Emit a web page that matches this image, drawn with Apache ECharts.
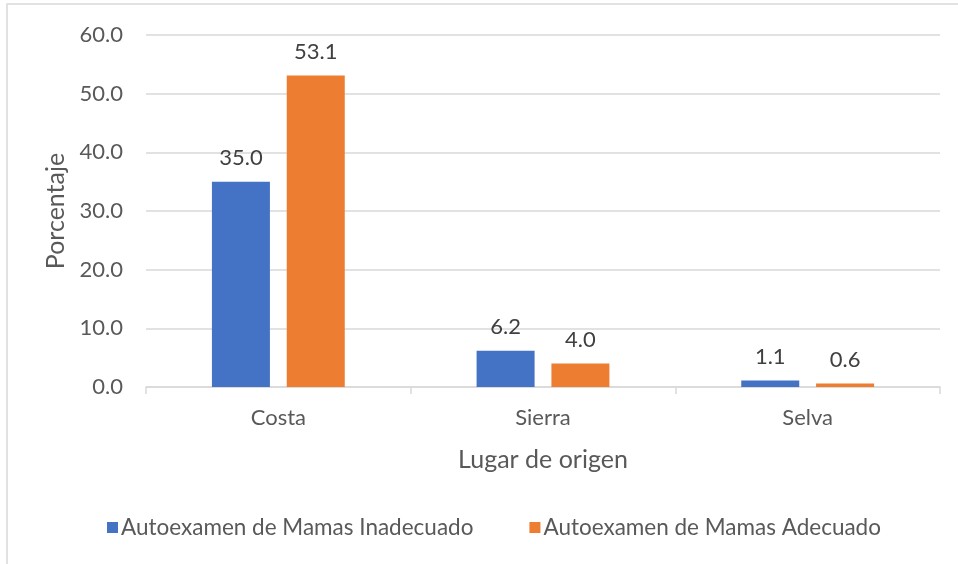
<!DOCTYPE html>
<html><head><meta charset="utf-8">
<script src="https://cdn.jsdelivr.net/npm/echarts@6/dist/echarts.min.js"></script>
<style>html,body{margin:0;padding:0;background:#fff}#c{width:958px;height:564px}</style>
</head><body><div id="c"></div>
<script>
const categories = ['Costa', 'Sierra', 'Selva'];
const inadecuado = [35.0, 6.2, 1.1];
const adecuado = [53.1, 4.0, 0.6];
const seriesNames = ['Autoexamen de Mamas Inadecuado', 'Autoexamen de Mamas Adecuado'];
const colors = ['#4472C4', '#ED7D31'];
const FONT = 'Lato';

const chart = echarts.init(document.getElementById('c'), null, {renderer: 'canvas'});
const labelOpt = {show: true, position: 'top', distance: 13, color: '#404040', fontSize: 22, fontFamily: FONT,
  formatter: p => p.value.toFixed(1)};
chart.setOption({
  animation: false,
  graphic: [{type: 'rect', shape: {x: 7, y: 4, width: 960, height: 570},
    style: {fill: 'none', stroke: '#d9d9d9', lineWidth: 1.5}, silent: true}],
  grid: {left: 146, right: 18, top: 35, bottom: 177, containLabel: false},
  legend: {bottom: 20, left: 102, itemWidth: 11, itemHeight: 11, itemGap: 56, icon: 'rect',
    textStyle: {fontSize: 22.5, color: '#595959', fontFamily: FONT, padding: [0, 0, 0, -2]},
    data: seriesNames},
  xAxis: {type: 'category', data: categories,
    name: 'Lugar de origen', nameLocation: 'middle', nameGap: 60,
    nameTextStyle: {fontSize: 25, color: '#595959', fontFamily: FONT},
    axisLine: {lineStyle: {color: '#d9d9d9', width: 1.5}},
    axisTick: {show: true, length: 7, lineStyle: {color: '#d9d9d9', width: 1.5}},
    axisLabel: {fontSize: 22, color: '#595959', fontFamily: FONT, margin: 20}},
  yAxis: {type: 'value', min: 0, max: 60, interval: 10,
    name: 'Porcentaje', nameLocation: 'middle', nameGap: 74, nameRotate: 90,
    nameTextStyle: {fontSize: 25, color: '#595959', fontFamily: FONT},
    axisLine: {show: false}, axisTick: {show: false},
    axisLabel: {fontSize: 22, color: '#595959', fontFamily: FONT, margin: 23, formatter: v => v.toFixed(1)},
    splitLine: {lineStyle: {color: '#d9d9d9', width: 1.5}}},
  series: [
    {name: seriesNames[0], type: 'bar', data: inadecuado, barWidth: 58, barGap: '29%',
      itemStyle: {color: colors[0]}, label: labelOpt},
    {name: seriesNames[1], type: 'bar', data: adecuado, barWidth: 58,
      itemStyle: {color: colors[1]}, label: labelOpt}
  ]
});
</script></body></html>
